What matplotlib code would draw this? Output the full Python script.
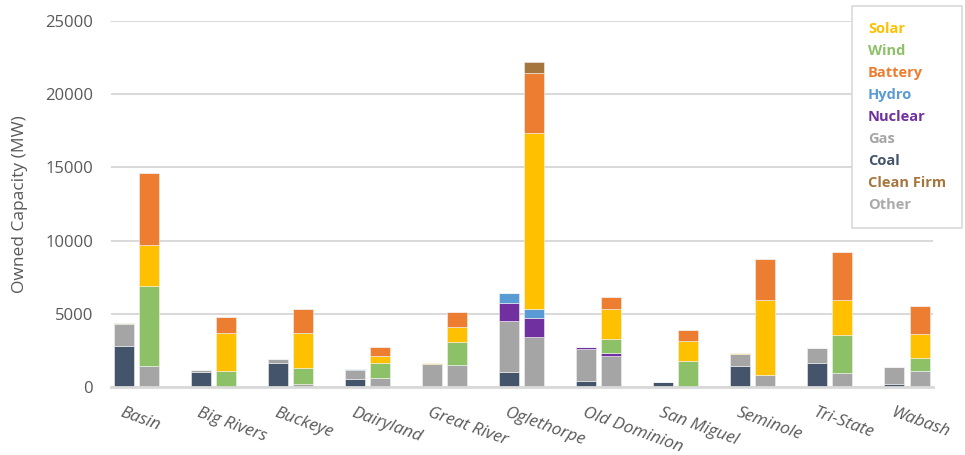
import numpy as np
import matplotlib
matplotlib.use("Agg")
import matplotlib.pyplot as plt
from matplotlib.patches import Patch
from matplotlib.transforms import ScaledTranslation

plt.rcParams["font.family"] = ["Open Sans", "DejaVu Sans"]

# Co-ops (x axis)
coops = ["Basin", "Big Rivers", "Buckeye", "Dairyland", "Great River",
         "Oglethorpe", "Old Dominion", "San Miguel", "Seminole", "Tri-State", "Wabash"]

# left bar of each pair (owned today), MW
coal_now = [2770, 1020, 1640, 545, 0, 1000, 385, 365, 1410, 1615, 180]
gas_now = [1525, 140, 250, 590, 1550, 3500, 2180, 0, 820, 1045, 1160]
nuclear_now = [0, 0, 0, 0, 0, 1270, 180, 0, 0, 0, 0]
hydro_now = [0, 0, 0, 70, 0, 640, 0, 0, 0, 0, 0]
wind_now = [80, 0, 0, 0, 0, 0, 0, 0, 0, 0, 0]
solar_now = [0, 0, 0, 0, 60, 0, 0, 0, 60, 0, 0]
battery_now = [0, 0, 0, 0, 0, 0, 0, 0, 0, 0, 0]
cleanfirm_now = [0, 0, 0, 0, 0, 0, 0, 0, 0, 0, 0]

# right bar of each pair (future portfolio), MW
gas_new = [1455, 0, 205, 615, 1500, 3430, 2135, 0, 795, 955, 1090]
nuclear_new = [0, 0, 0, 0, 0, 1250, 205, 0, 0, 0, 0]
hydro_new = [0, 0, 0, 0, 0, 660, 0, 0, 0, 0, 0]
wind_new = [5410, 1090, 1070, 1020, 1570, 0, 930, 1750, 0, 2615, 910]
solar_new = [2840, 2590, 2390, 500, 1000, 12000, 2070, 1410, 5140, 2340, 1610]
battery_new = [4890, 1090, 1660, 590, 1045, 4135, 800, 705, 2820, 3320, 1910]
cleanfirm_new = [0, 0, 0, 0, 0, 705, 0, 0, 0, 0, 0]

colors = {
    "Solar": "#FFC000",
    "Wind": "#8CC168",
    "Battery": "#ED7D31",
    "Hydro": "#5B9BD5",
    "Nuclear": "#7030A0",
    "Gas": "#A5A5A5",
    "Coal": "#44546A",
    "Clean Firm": "#A6763F",
    "Other": "#ABABAB",
}
legend_order = ["Solar", "Wind", "Battery", "Hydro", "Nuclear", "Gas", "Coal", "Clean Firm", "Other"]

# stacking order bottom -> top
stack_now = [("Coal", coal_now), ("Gas", gas_now), ("Nuclear", nuclear_now),
             ("Hydro", hydro_now), ("Wind", wind_now), ("Solar", solar_now),
             ("Battery", battery_now), ("Clean Firm", cleanfirm_now)]
stack_new = [("Gas", gas_new), ("Nuclear", nuclear_new), ("Hydro", hydro_new),
             ("Wind", wind_new), ("Solar", solar_new), ("Battery", battery_new),
             ("Clean Firm", cleanfirm_new)]

fig = plt.figure(figsize=(9.65, 4.55), dpi=100)
ax = fig.add_axes([111 / 965, 1 - 387 / 455, (933 - 111) / 965, (387 - 21) / 455])

x = np.arange(len(coops))
width = 0.26
offset = 0.165

for stack, shift in ((stack_now, -offset), (stack_new, offset)):
    bottom = np.zeros(len(coops))
    for name, vals in stack:
        vals = np.array(vals, dtype=float)
        ax.bar(x + shift, vals, width, bottom=bottom, color=colors[name],
               edgecolor="#F2F2F2", linewidth=0.4, zorder=3)
        bottom += vals

ax.set_xlim(-0.33, len(coops) - 1 + 0.34)
ax.set_ylim(0, 25000)
ax.set_yticks(range(0, 25001, 5000))
ax.grid(axis="y", color="#D9D9D9", linewidth=1.4, zorder=0)
ax.set_axisbelow(True)
for side in ("top", "right", "left"):
    ax.spines[side].set_visible(False)
ax.spines["bottom"].set_color("#D9D9D9")
ax.spines["bottom"].set_linewidth(2)
ax.spines["bottom"].set_zorder(4)

ax.tick_params(axis="y", length=0, pad=13, labelsize=12, labelcolor="#595959")
ax.tick_params(axis="x", length=0, pad=13, labelsize=12.3, labelcolor="#595959")
ax.set_xticks(x)
ax.set_xticklabels(coops, rotation=-20, ha="left", rotation_mode="anchor", style="italic")
shift_lbl = ScaledTranslation(-13 / 100, 0, fig.dpi_scale_trans)
for lbl in ax.get_xticklabels():
    lbl.set_transform(lbl.get_transform() + shift_lbl)

ax.set_ylabel("Owned Capacity (MW)", fontsize=12.5, color="#595959", labelpad=12)

handles = [Patch(alpha=0) for _ in legend_order]
leg = ax.legend(handles, legend_order, loc="upper left",
                bbox_to_anchor=(852 / 965, 1 - 6 / 455), bbox_transform=fig.transFigure,
                borderaxespad=0, handlelength=0, handletextpad=0, fancybox=False,
                framealpha=1, edgecolor="#D9D9D9", borderpad=1.1, labelspacing=0.55,
                prop={"size": 10.5, "weight": "bold"})
leg.get_frame().set_linewidth(1.2)
for txt, name in zip(leg.get_texts(), legend_order):
    txt.set_color(colors[name])
leg.set_zorder(10)

fig.savefig("out.png", dpi=100)
